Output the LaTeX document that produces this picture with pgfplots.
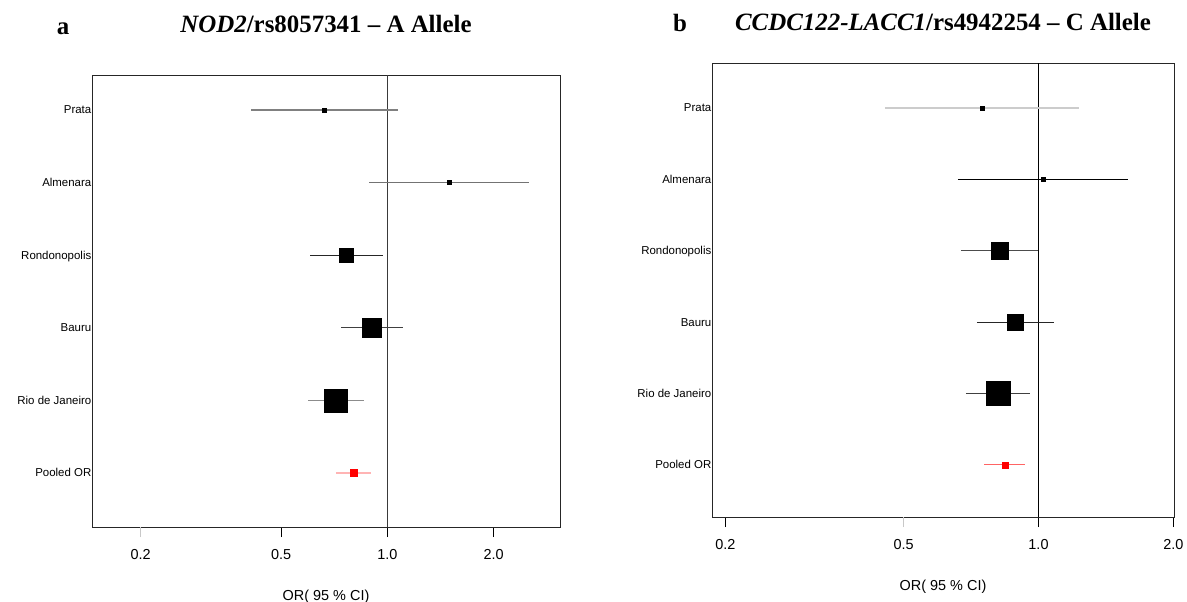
\documentclass[border=0pt]{standalone}
\usepackage{fontspec}
\setmainfont{Liberation Serif}
\setsansfont{Liberation Sans}
\usepackage{pgfplots}
\pgfplotsset{compat=1.18}

\definecolor{frame}{HTML}{262626}
\definecolor{refl}{HTML}{3A3A3A}
\definecolor{ltick}{HTML}{C8C8C8}
\definecolor{pooledA}{HTML}{FFB4B4}
\definecolor{pooledB}{HTML}{FF6464}
\definecolor{pooledmk}{HTML}{FF0000}

% one study row: ci colour, row, lower, upper, OR, half side of the square, square colour
\newcommand{\study}[7]{%
  \addplot[#1, line width=1.1bp] coordinates {(#3,#2) (#4,#2)};
  \addplot[only marks, mark=square*, mark size=#6bp,
    mark options={fill=#7, draw=#7, line width=0.2bp}] coordinates {(#5,#2)};
}

\pgfplotsset{forestaxis/.style={
    scale only axis,
    axis line style={draw=frame, line width=0.9bp},
    tick align=outside,
    major tick length=10bp,
    tick style={draw=black, line width=0.9bp},
    xtick pos=bottom,
    ytick pos=left,
    /pgf/number format/assume math mode=true,
    xticklabel style={font=\sffamily\fontsize{14.5}{15}\selectfont, yshift=-9bp},
    ytick={1,2,3,4,5,6},
    yticklabels={Pooled OR,Rio de Janeiro,Bauru,Rondonopolis,Almenara,Prata},
    ytick style={draw=none},
    yticklabel style={font=\sffamily\fontsize{11.5}{12}\selectfont,
      inner sep=0.5bp, anchor=base east, xshift=10bp, yshift=-4bp},
    xlabel={OR( 95 \% CI)},
    xlabel style={font=\sffamily\fontsize{14.5}{15}\selectfont,
      at={(axis description cs:0.5,0)}, anchor=base, yshift=-73bp},
    title style={font=\fontsize{25}{27}\selectfont,
      at={(axis description cs:0.5,1)}, anchor=base},
  }}

\begin{document}
\begin{tikzpicture}
\path[use as bounding box] (0,0) rectangle (1187bp,-602bp);

% panel a
\begin{axis}[xmode=log, forestaxis,
    at={(92bp,-527bp)}, anchor=south west,
    width=468bp, height=451.5bp,
    xmin=0.1455, xmax=3.085, ymin=0.256, ymax=6.475,
    xtick={0.5,1,2}, xticklabels={0.5,1.0,2.0},
    extra x ticks={0.2}, extra x tick labels={0.2},
    extra x tick style={major tick style={draw=ltick}},
    title={\textbf{\textit{NOD2}/rs8057341 – A Allele}},
    title style={yshift=37.5bp},
  ]
  \addplot[refl, line width=1.3bp] coordinates {(1,0.256) (1,6.475)};
  \study{black!50}{6}{0.411}{1.072}{0.661}{2}{black}
  \study{black!55}{5}{0.887}{2.52}{1.495}{2}{black}
  \study{black!85}{4}{0.604}{0.972}{0.763}{7}{black}
  \study{black!75}{3}{0.739}{1.107}{0.904}{9.5}{black}
  \study{black!45}{2}{0.596}{0.858}{0.713}{11.5}{black}
  \study{pooledA}{1}{0.715}{0.899}{0.804}{3.5}{pooledmk}
\end{axis}

% panel b
\begin{axis}[xmode=log, forestaxis,
    at={(712bp,-517bp)}, anchor=south west,
    width=462bp, height=454bp,
    xmin=0.1867, xmax=2.007, ymin=0.27, ymax=6.63,
    xtick={0.2,1,2}, xticklabels={0.2,1.0,2.0},
    extra x ticks={0.5}, extra x tick labels={0.5},
    extra x tick style={major tick style={draw=ltick}},
    title={\textbf{\textit{CCDC122-LACC1}/rs4942254 – C Allele}},
    title style={yshift=26.5bp},
  ]
  \addplot[black, line width=1.3bp] coordinates {(1,0.27) (1,6.63)};
  \study{black!20}{6}{0.454}{1.231}{0.748}{2}{black}
  \study{black}{5}{0.661}{1.584}{1.023}{2}{black}
  \study{black!70}{4}{0.671}{0.997}{0.818}{8.5}{black}
  \study{black!85}{3}{0.729}{1.083}{0.886}{8.25}{black}
  \study{black!75}{2}{0.689}{0.957}{0.812}{12}{black}
  \study{pooledB}{1}{0.756}{0.933}{0.842}{3}{pooledmk}
\end{axis}

\node[font=\bfseries\fontsize{25}{27}\selectfont, anchor=base] at (63bp,-34bp) {a};
\node[font=\bfseries\fontsize{25}{27}\selectfont, anchor=base] at (680bp,-31bp) {b};
\end{tikzpicture}
\end{document}
